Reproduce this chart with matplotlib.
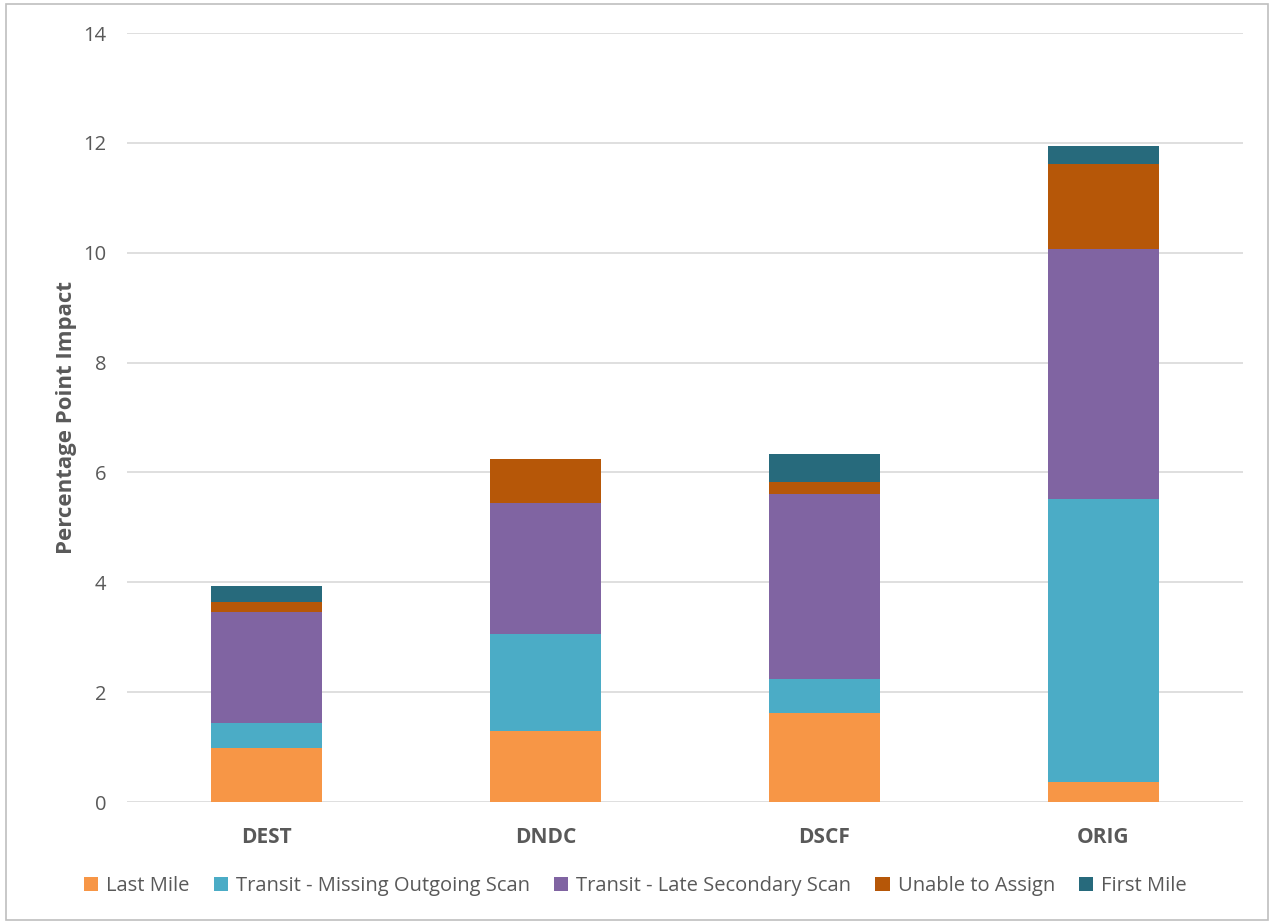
import matplotlib
matplotlib.use("Agg")
import matplotlib.pyplot as plt
import numpy as np
from matplotlib.patches import Rectangle

plt.rcParams['font.family'] = ['Open Sans', 'DejaVu Sans']

categories = ["DEST", "DNDC", "DSCF", "ORIG"]
series_names = ["Last Mile", "Transit - Missing Outgoing Scan",
                "Transit - Late Secondary Scan", "Unable to Assign", "First Mile"]
last_mile = [0.98, 1.30, 1.62, 0.37]
transit_missing = [0.46, 1.75, 0.62, 5.14]
transit_late = [2.02, 2.39, 3.37, 4.56]
unable_to_assign = [0.19, 0.81, 0.21, 1.54]
first_mile = [0.28, 0.0, 0.51, 0.34]
colors = ["#F79646", "#4BACC6", "#8064A2", "#B65708", "#276A7C"]
yticks = [0, 2, 4, 6, 8, 10, 12, 14]

series = [last_mile, transit_missing, transit_late, unable_to_assign, first_mile]

fig = plt.figure(figsize=(12.71, 9.22), dpi=100)
ax = fig.add_axes([127/1271, 120/922, 1116/1271, 769/922])

x = np.arange(len(categories))
bottom = np.zeros(len(categories))
for name, vals, c in zip(series_names, series, colors):
    v = np.array(vals)
    ax.bar(x, v, width=0.4, bottom=bottom, color=c, label=name, edgecolor='none', zorder=3)
    bottom += v

ax.set_xlim(-0.5, 3.5)
ax.set_ylim(0, 14)
ax.set_yticks(yticks)
ax.set_yticklabels([str(t) for t in yticks], fontsize=14.5, color='#595959')
ax.set_xticks(x)
ax.set_xticklabels(categories, fontsize=15, color='#595959', fontweight='bold')
ax.tick_params(axis='both', length=0)
ax.tick_params(axis='y', pad=15)
ax.tick_params(axis='x', pad=18)
ax.grid(axis='y', color='#D9D9D9', linewidth=1.2, zorder=0)
for s in ax.spines.values():
    s.set_visible(False)
ax.set_ylabel("Percentage Point Impact", fontsize=16, fontweight='bold', color='#595959', labelpad=4)

leg = fig.legend(loc='center', bbox_to_anchor=(0.5, 36/922), ncol=5, frameon=False,
                 fontsize=14.5, handlelength=0.7, handleheight=0.7, handletextpad=0.4,
                 columnspacing=1.2, labelcolor='#595959')

fig.patches.append(Rectangle((6/1271, 2/922), 1262/1271, 916/922, transform=fig.transFigure,
                             fill=False, edgecolor='#BFBFBF', linewidth=1.2))

fig.savefig("out.png", dpi=100, facecolor='white')
